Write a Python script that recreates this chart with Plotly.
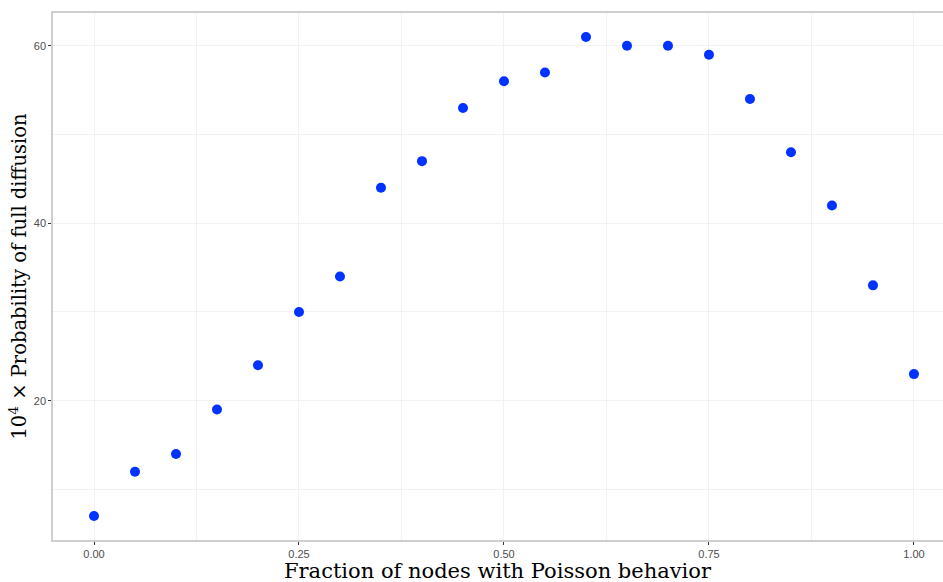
import plotly.graph_objects as go

fraction = [0.00, 0.05, 0.10, 0.15, 0.20, 0.25, 0.30, 0.35, 0.40, 0.45, 0.50,
            0.55, 0.60, 0.65, 0.70, 0.75, 0.80, 0.85, 0.90, 0.95, 1.00]
prob = [7, 12, 14, 19, 24, 30, 34, 44, 47, 53, 56,
        57, 61, 60, 60, 59, 54, 48, 42, 33, 23]
x_ticks = [0.0, 0.25, 0.5, 0.75, 1.0]
x_ticklabels = ["0.00", "0.25", "0.50", "0.75", "1.00"]
y_ticks = [20, 40, 60]
x_title = "Fraction of nodes with Poisson behavior"
y_title = "10<sup>4</sup> × Probability of full diffusion"

fig = go.Figure()
fig.add_trace(go.Scatter(
    x=fraction, y=prob, mode="markers",
    marker=dict(color="#0033ff", size=10, line=dict(width=0)),
    showlegend=False,
))

grid_col = "#f2f2f2"
serif = "DejaVu Serif, serif"
fig.update_layout(
    width=943, height=582, autosize=False,
    margin=dict(l=53, r=0, t=13, b=42),
    plot_bgcolor="white", paper_bgcolor="white",
    font=dict(family="Liberation Sans, Arial, sans-serif", size=11, color="#4d4d4d"),
)
fig.update_xaxes(
    range=[-0.05, 1.0354],
    tickvals=x_ticks, ticktext=x_ticklabels,
    ticks="outside", ticklen=3, tickcolor="#333333", tickwidth=1,
    showgrid=True, gridcolor=grid_col, gridwidth=1,
    minor=dict(tickvals=[0.125, 0.375, 0.625, 0.875], showgrid=True, gridcolor=grid_col, gridwidth=1),
    showline=True, linecolor="#cfcfcf", linewidth=1.5, mirror=True,
    zeroline=False,
    tickfont=dict(size=11, color="#4d4d4d"),
)
fig.add_annotation(
    text=x_title, xref="paper", yref="paper", x=0.5, y=0,
    xanchor="center", yanchor="top", yshift=-17, showarrow=False,
    font=dict(family=serif, size=21, color="black"),
)
fig.update_yaxes(
    range=[4.3, 63.7],
    tickvals=y_ticks,
    ticks="outside", ticklen=3, tickcolor="#333333", tickwidth=1,
    showgrid=True, gridcolor=grid_col, gridwidth=1,
    minor=dict(tickvals=[10, 30, 50], showgrid=True, gridcolor=grid_col, gridwidth=1),
    showline=True, linecolor="#cfcfcf", linewidth=1.5, mirror=False,
    zeroline=False,
    title=dict(text=y_title,
               font=dict(family=serif, size=19.5, color="black"),
               standoff=2),
    tickfont=dict(size=11, color="#4d4d4d"),
)

fig.write_html("out.html")
